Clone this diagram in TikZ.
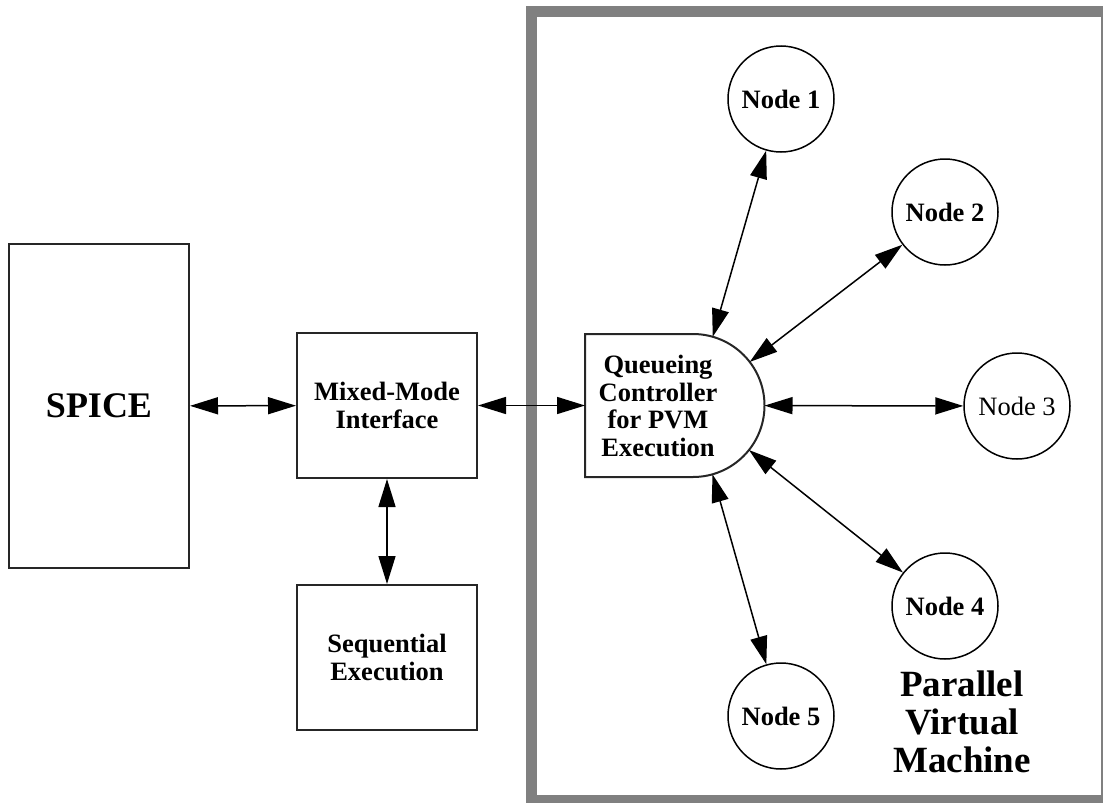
\documentclass[tikz,border=0pt]{standalone}
\usepackage{fontspec}
\setmainfont{Liberation Serif}
\usetikzlibrary{arrows.meta,calc}
\begin{document}
\begin{tikzpicture}[x=1pt,y=-1pt,
  lbl/.style={font=\bfseries\fontsize{26.5}{27.7}\selectfont,align=center},
  box/.style={lbl,draw=black!85,line width=2pt,inner sep=0pt,minimum width=180pt},
  pnode/.style={lbl,draw,circle,line width=1.5pt,minimum size=106pt,inner sep=0pt},
  tip/.tip={Triangle[length=28pt,width=17pt]},
  link/.style={line width=1.5pt,tip-tip}
]
\useasboundingbox (0,0) rectangle (1103,803);

% grey frame of the virtual machine, partly running off the page
\begin{scope}
  \clip (0,0) rectangle (1103,803);
  \draw[black!50,line width=11pt] (531,11) rectangle (1106.5,800.5);
\end{scope}

% left-hand blocks
\node[box,minimum height=324pt,font=\bfseries\fontsize{36}{40}\selectfont] (spice) at (99,406) {SPICE};
\node[box,minimum height=145pt] (mm) at (387,405.5) {Mixed-Mode\\Interface};
\node[box,minimum height=145pt] (seq) at (387,657.5) {Sequential\\Execution};

% queueing controller: rectangle with a half-round right side
\coordinate (qw) at (585,405.5);
\coordinate (qc) at (693,405.5);
\draw[black!85,line width=2pt] (693,477) -- (585,477) -- (585,334) -- (693,334)
  arc[start angle=90,end angle=-90,radius=71.5pt] -- cycle;
\node[lbl] (q) at (658,406) {Queueing\\Controller\\for PVM\\Execution};

% worker nodes (labels sit a little below the circle centres)
\newcommand{\nlabel}[1]{\raisebox{-3pt}{#1}}
\node[pnode] (n1) at (781,99) {\nlabel{Node 1}};
\node[pnode] (n2) at (945,212) {\nlabel{Node 2}};
\node[pnode,font=\fontsize{26.5}{27.7}\selectfont] (n3) at (1017,406) {\nlabel{Node 3}};
\node[pnode] (n4) at (945,606) {\nlabel{Node 4}};
\node[pnode] (n5) at (781,716) {\nlabel{Node 5}};

\node[font=\bfseries\fontsize{37}{37.7}\selectfont,align=center] (pvm) at (962,722) {Parallel\\Virtual\\Machine};

% connections
\draw[link] (spice) -- (mm);
\draw[link] (mm) -- (seq);
\draw[link] (mm) -- (qw);
\draw[link] ($(qc)!71.5pt!(n1)$) -- (n1);
\draw[link] ($(qc)!71.5pt!(n2)$) -- (n2);
\draw[link] ($(qc)!71.5pt!(n3)$) -- (n3);
\draw[link] ($(qc)!71.5pt!(n4)$) -- (n4);
\draw[link] ($(qc)!71.5pt!(n5)$) -- (n5);
\end{tikzpicture}
\end{document}
